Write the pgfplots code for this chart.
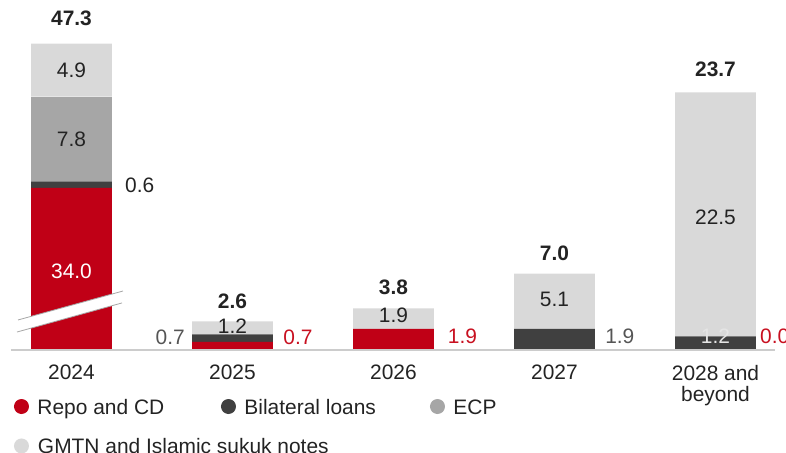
\documentclass[border=0pt]{standalone}
\usepackage{pgfplots}
\pgfplotsset{compat=1.18}
\usepackage{fontspec}
\setmainfont{Liberation Sans}
\definecolor{repo}{RGB}{192,0,22}
\definecolor{bilat}{RGB}{64,64,64}
\definecolor{ecp}{RGB}{166,166,166}
\definecolor{gmtn}{RGB}{217,217,217}
\definecolor{dtext}{RGB}{35,35,35}
\definecolor{gtext}{RGB}{85,85,85}
\definecolor{rtext}{RGB}{200,16,32}
\newcommand{\fs}{\fontsize{21}{21}\selectfont}
\tikzset{lab/.style={font=\fs, inner sep=0pt}, tot/.style={font=\fs\bfseries, inner sep=0pt, text=dtext}}
\pgfplotsset{base/.style={
  width=786bp, height=453bp, scale only axis,
  xmin=-0.4441, xmax=4.4379, ymin=-9.539, ymax=32.21,
  enlargelimits=false, clip=false}}
\begin{document}
\begin{tikzpicture}
\begin{axis}[
  base,
  axis x line=bottom, axis y line=none,
  axis line style={draw=none},
  ytick=\empty,
  xtick={0,1,2,3,4},
  xticklabels={2024,2025,2026,2027,{2028 and\\beyond}},
  major tick length=0pt,
  xticklabel style={anchor=north, yshift=88bp, inner sep=0pt, align=center, font=\fs, text=dtext},
  ybar stacked, bar width=0.503,
  legend columns=3,
  legend style={at={(axis description cs:0.0178,-0.0044)}, anchor=south west,
    draw=none, fill=none, inner sep=0pt, outer sep=0pt,
    row sep=23bp, column sep=0pt, font=\fs, text=dtext,
    nodes={inner sep=0pt, outer sep=0pt},
    cells={anchor=base west, inner sep=0pt, outer sep=0pt, text height=15bp, text depth=0pt},
    /tikz/every odd column/.style={column sep=8.5bp}},
]
\addplot[fill=repo, draw=none, legend image code/.code={\fill[repo] (7.5bp,7.5bp) circle (7.5bp);}]
  coordinates {(0,14.9) (1,0.7) (2,1.9) (3,0) (4,0)};
\addlegendentry{\makebox[183.5bp][l]{Repo and CD}}
\addplot[fill=bilat, draw=none, legend image code/.code={\fill[bilat] (7.5bp,7.5bp) circle (7.5bp);}]
  coordinates {(0,0.6) (1,0.7) (2,0) (3,1.9) (4,1.2)};
\addlegendentry{\makebox[185.5bp][l]{Bilateral loans}}
\addplot[fill=ecp, draw=none, legend image code/.code={\fill[ecp] (7.5bp,7.5bp) circle (7.5bp);}]
  coordinates {(0,7.8) (1,0) (2,0) (3,0) (4,0)};
\addlegendentry{ECP}
\addplot[fill=gmtn, draw=none, legend image code/.code={\fill[gmtn] (7.5bp,7.5bp) circle (7.5bp);}]
  coordinates {(0,4.9) (1,1.2) (2,1.9) (3,5.1) (4,22.5)};
\addlegendentry{\makebox[0pt][l]{GMTN and Islamic sukuk notes}}
\end{axis}
\begin{axis}[base, hide axis]
\draw[gray!40, line width=1.2bp] (axis cs:-0.3758,-0.05) -- (axis cs:4.3696,-0.05);
\fill[white] (axis cs:-0.3323,2.72) -- (axis cs:0.3199,5.39) -- (axis cs:0.3137,4.29) -- (axis cs:-0.3385,1.61) -- cycle;
\draw[gray!70, line width=0.8bp] (axis cs:-0.3323,2.72) -- (axis cs:0.3199,5.39);
\draw[gray!70, line width=0.8bp] (axis cs:-0.3385,1.61) -- (axis cs:0.3137,4.29);

\node[lab, text=dtext] at (axis cs:0,25.7) {4.9};
\node[lab, text=dtext] at (axis cs:0,19.38) {7.8};
\node[lab, text=white] at (axis cs:0,7.25) {34.0};
\node[lab, text=dtext, anchor=west] at (axis cs:0.3323,15.16) {0.6};
\node[tot] at (axis cs:0,30.55) {47.3};

\node[lab, text=gtext, anchor=east] at (axis cs:0.705,1.15) {0.7};
\node[lab, text=dtext] at (axis cs:1,2.17) {1.2};
\node[lab, text=rtext, anchor=west] at (axis cs:1.3155,1.15) {0.7};
\node[tot] at (axis cs:1,4.47) {2.6};

\node[lab, text=dtext] at (axis cs:2,3.18) {1.9};
\node[lab, text=rtext, anchor=west] at (axis cs:2.337,1.2) {1.9};
\node[tot] at (axis cs:2,5.69) {3.8};

\node[lab, text=dtext] at (axis cs:3,4.59) {5.1};
\node[lab, text=gtext, anchor=west] at (axis cs:3.314,1.22) {1.9};
\node[tot] at (axis cs:3,8.83) {7.0};

\node[lab, text=dtext] at (axis cs:4,12.2) {22.5};
\node[lab, text=gray!20] at (axis cs:4,1.22) {1.2};
\node[lab, text=rtext, anchor=west] at (axis cs:4.276,1.22) {0.0};
\node[tot] at (axis cs:4,25.8) {23.7};
\end{axis}
\pgfresetboundingbox
\path[use as bounding box] (current axis.south west) rectangle (current axis.north east);
\end{tikzpicture}
\end{document}
